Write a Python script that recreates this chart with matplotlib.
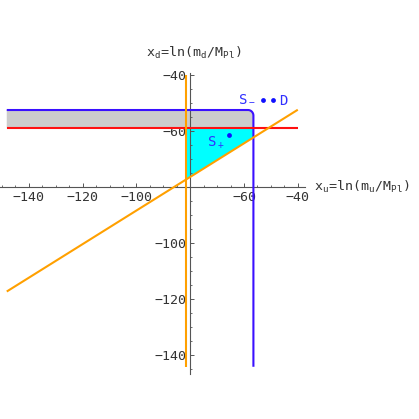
import numpy as np
import matplotlib
matplotlib.use("Agg")
import matplotlib.pyplot as plt

# ---- data ----
x_left, x_right = -148.2, -40.0          # extent of horizontal lines
y_blue = -52.4                            # blue horizontal boundary
x_blue = -56.5                            # blue vertical boundary
y_red = -59.0                             # red horizontal line
x_orange = -81.6                          # orange vertical line
orange_v_range = [-39.8, -144.1]
blue_v_bottom = -144.1
diag_slope, diag_icpt = 0.6, -28.3        # orange diagonal  y = a x + b
points_x = [-52.9, -49.2, -65.6]
points_y = [-49.0, -49.0, -61.25]
point_labels = [r"$\mathtt{S_-}$", r"$\mathtt{D}$", r"$\mathtt{S_+}$"]
xticks = [-140, -120, -100, -80, -60, -40]
yticks = [-140, -120, -100, -80, -60, -40]
corner_r = 2.0

BLUE = "#3a10ff"
ORANGE = "#ffa000"
RED = "#ff1010"
CYAN = "#00ffff"
GRAY = "#cccccc"
AX = "#555555"
TXT = "#333333"

fig = plt.figure(figsize=(4.19, 4.19), dpi=100)
ax = fig.add_axes([0, 0, 1, 1])
ax.set_xlim(-150.71, 5.06)
ax.set_ylim(-162.75, -13.11)

# blue boundary with rounded corner
t = np.linspace(np.pi / 2, 0, 20)
cx, cy = x_blue - corner_r, y_blue - corner_r
arc_x = cx + corner_r * np.cos(t)
arc_y = cy + corner_r * np.sin(t)
bx = np.concatenate([[x_left], arc_x, [x_blue]])
by = np.concatenate([[y_blue], arc_y, [blue_v_bottom]])

# gray band
gx = np.concatenate([[x_left], arc_x, [x_blue, x_left]])
gy = np.concatenate([[y_blue], arc_y, [y_red, y_red]])
ax.fill(gx, gy, color=GRAY, lw=0, zorder=1)

# cyan region
cxs = [x_orange, x_blue, x_blue, x_orange]
cys = [y_red, y_red, diag_slope * x_blue + diag_icpt, diag_slope * x_orange + diag_icpt]
ax.fill(cxs, cys, color=CYAN, lw=0, zorder=1)

lw = 1.5
ax.plot(bx, by, color=BLUE, lw=lw, zorder=3, solid_capstyle="butt")
ax.plot([x_left, x_right], [y_red, y_red], color=RED, lw=lw, zorder=3, solid_capstyle="butt")
ax.plot([x_orange, x_orange], orange_v_range, color=ORANGE, lw=lw, zorder=3, solid_capstyle="butt")
dx = np.array([x_left, x_right])
ax.plot(dx, diag_slope * dx + diag_icpt, color=ORANGE, lw=lw, zorder=3, solid_capstyle="butt")

# points
ax.scatter(points_x, points_y, s=12, color="#1010ff", zorder=4, linewidths=0)
lab_font = dict(fontsize=10, color="#3030ff")
ax.text(points_x[0] - 2.8, points_y[0] + 0.8, point_labels[0], ha="right", va="center", **lab_font)
ax.text(points_x[1] + 2.2, points_y[1] - 0.3, point_labels[1], ha="left", va="center", **lab_font)
ax.text(points_x[2] - 1.6, points_y[2] - 3.0, point_labels[2], ha="right", va="center", **lab_font)

# axes through (-80, -80)
for s in ["top", "right"]:
    ax.spines[s].set_visible(False)
ax.spines["left"].set_position(("data", -80))
ax.spines["bottom"].set_position(("data", -80))
ax.spines["left"].set_bounds(-146.6, -39.1)
ax.spines["bottom"].set_bounds(-150.7, -37.3)
for s in ["left", "bottom"]:
    ax.spines[s].set_color(AX)
    ax.spines[s].set_linewidth(0.8)
    ax.spines[s].set_zorder(2)

ax.set_xticks(xticks)
ax.set_yticks(yticks)
ax.set_xticklabels(["" if v == -80 else "\u2212%d" % abs(v) for v in xticks])
ax.set_yticklabels(["" if v == -80 else "\u2212%d" % abs(v) for v in yticks])
ax.set_xticks(np.arange(-150, -37, 5), minor=True)
ax.set_yticks(np.arange(-145, -37, 5), minor=True)
ax.tick_params(which="major", direction="in", length=3.0, width=0.7, color=AX,
               labelsize=9.5, labelcolor=TXT, pad=3)
ax.tick_params(which="minor", direction="in", length=1.6, width=0.6, color=AX)
for lab in ax.get_xticklabels() + ax.get_yticklabels():
    lab.set_family("DejaVu Sans Mono")

ax.text(-34.0, -80.0, r"$\mathtt{x_u\!=\!ln(m_u/M_{Pl})}$", ha="left", va="center",
        fontsize=9.5, color=TXT)
ax.text(-78.5, -32.0, r"$\mathtt{x_d\!=\!ln(m_d/M_{Pl})}$", ha="center", va="center",
        fontsize=9.5, color=TXT)

fig.savefig("out.png", dpi=100)
